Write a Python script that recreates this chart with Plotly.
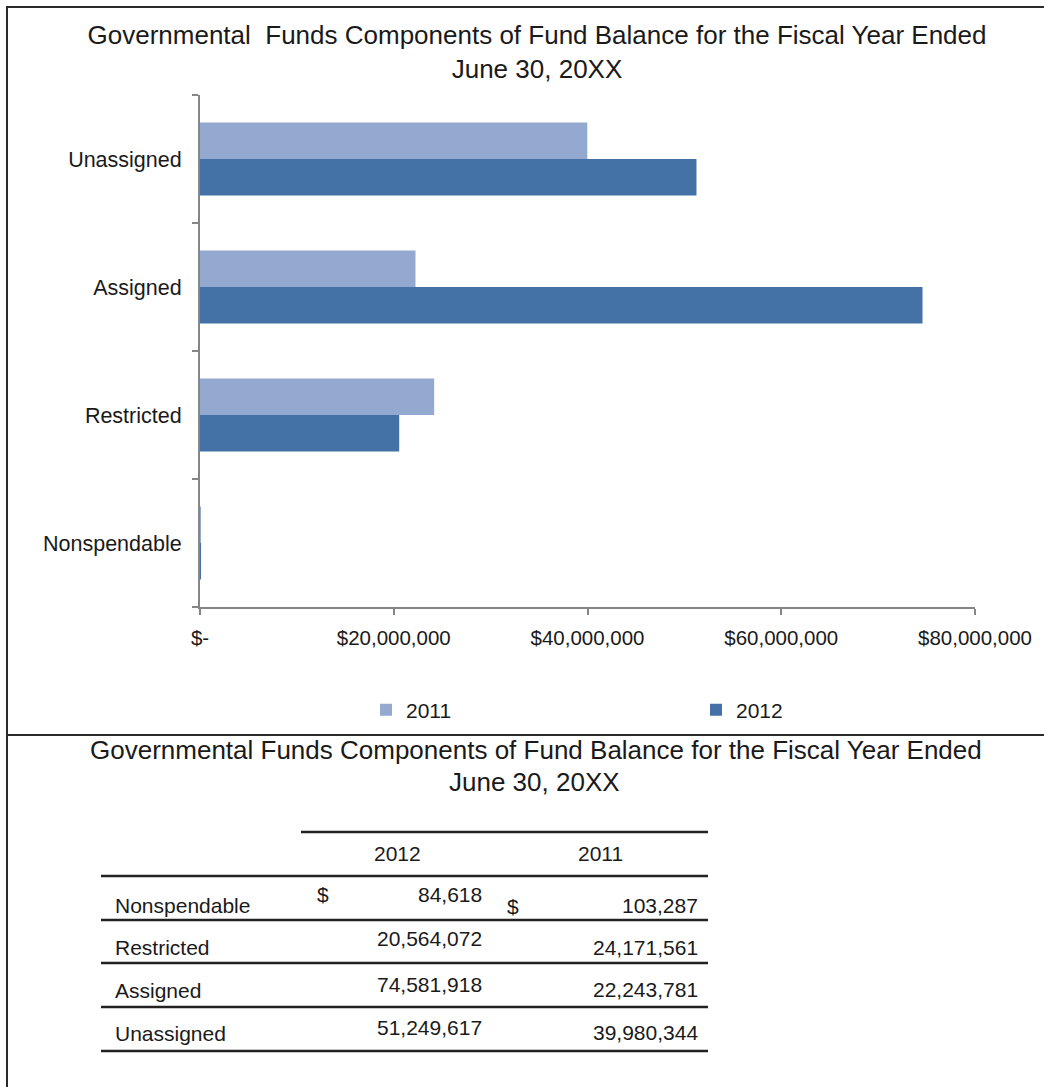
import plotly.graph_objects as go

W, H = 1044, 1087

# ---------------- data ----------------
categories = ["Nonspendable", "Restricted", "Assigned", "Unassigned"]
values_2012 = [84618, 20564072, 74581918, 51249617]
values_2011 = [103287, 24171561, 22243781, 39980344]
series_names = ["2011", "2012"]
x_tick_values = [0, 20000000, 40000000, 60000000, 80000000]
x_tick_labels = ["$-", "$20,000,000", "$40,000,000", "$60,000,000", "$80,000,000"]
title_line1 = "Governmental  Funds Components of Fund Balance for the Fiscal Year Ended"
title_line2 = "June 30, 20XX"
table_title_line1 = "Governmental Funds Components of Fund Balance for the Fiscal Year Ended"
table_header = ["2012", "2011"]
table_rows = ["Nonspendable", "Restricted", "Assigned", "Unassigned"]
# --------------------------------------

FONT = "Liberation Sans, Arial, sans-serif"
TXT = "#1a1a1a"
AX = "#868686"
LIGHT = "#94A9CF"
DARK = "#4472A6"


def px(x):
    return x / W


def py(y):
    return 1 - y / H


fig = go.Figure()
fig.add_trace(go.Bar(
    y=categories, x=values_2012, orientation="h", name=series_names[1],
    marker=dict(color=DARK, line=dict(width=0)), legendrank=2,
))
fig.add_trace(go.Bar(
    y=categories, x=values_2011, orientation="h", name=series_names[0],
    marker=dict(color=LIGHT, line=dict(width=0)), legendrank=1,
))

shapes = []
# outer frame of chart section
shapes.append(dict(type="rect", xref="paper", yref="paper",
                   x0=px(7), x1=px(1070), y0=py(7), y1=py(735),
                   line=dict(color="#2a2a2a", width=2)))
# left border of table section
shapes.append(dict(type="line", xref="paper", yref="paper",
                   x0=px(7), x1=px(7), y0=py(735), y1=py(1100),
                   line=dict(color="#2a2a2a", width=2)))
# table rules
shapes.append(dict(type="line", xref="paper", yref="paper",
                   x0=px(301), x1=px(708), y0=py(832), y1=py(832),
                   line=dict(color="#222", width=2.5)))
for yl in [876, 920, 963, 1007, 1051]:
    shapes.append(dict(type="line", xref="paper", yref="paper",
                       x0=px(101), x1=px(708), y0=py(yl), y1=py(yl),
                       line=dict(color="#222", width=2.5)))

annotations = []
# table title
annotations.append(dict(text=table_title_line1, x=px(536), y=py(750), xref="paper", yref="paper",
                        showarrow=False, xanchor="center", yanchor="middle",
                        font=dict(family=FONT, size=26, color=TXT)))
annotations.append(dict(text=title_line2, x=px(534), y=py(782), xref="paper", yref="paper",
                        showarrow=False, xanchor="center", yanchor="middle",
                        font=dict(family=FONT, size=26, color=TXT)))
# header
for hx, ht in zip([397, 600], table_header):
    annotations.append(dict(text=ht, x=px(hx), y=py(853), xref="paper", yref="paper",
                            showarrow=False, xanchor="center", yanchor="middle",
                            font=dict(family=FONT, size=21, color=TXT)))
row_label_y = [905, 948, 990, 1033]
v2012_y = [894, 938, 984, 1027]
v2011_y = [905, 948, 989, 1032]
for i, name in enumerate(table_rows):
    annotations.append(dict(text=name, x=px(113), y=py(row_label_y[i]), xref="paper", yref="paper",
                            showarrow=False, xanchor="left", yanchor="middle",
                            font=dict(family=FONT, size=21, color=TXT)))
    annotations.append(dict(text=f"{values_2012[i]:,}", x=px(484), y=py(v2012_y[i]), xref="paper", yref="paper",
                            showarrow=False, xanchor="right", yanchor="middle",
                            font=dict(family=FONT, size=21, color=TXT)))
    annotations.append(dict(text=f"{values_2011[i]:,}", x=px(700), y=py(v2011_y[i]), xref="paper", yref="paper",
                            showarrow=False, xanchor="right", yanchor="middle",
                            font=dict(family=FONT, size=21, color=TXT)))
# dollar signs on first row
annotations.append(dict(text="$", x=px(323), y=py(894), xref="paper", yref="paper",
                        showarrow=False, xanchor="center", yanchor="middle",
                        font=dict(family=FONT, size=21, color=TXT)))
annotations.append(dict(text="$", x=px(513), y=py(906), xref="paper", yref="paper",
                        showarrow=False, xanchor="center", yanchor="middle",
                        font=dict(family=FONT, size=21, color=TXT)))

fig.update_layout(
    width=W, height=H,
    margin=dict(l=0, r=0, t=0, b=0, autoexpand=False),
    paper_bgcolor="white", plot_bgcolor="white",
    barmode="group", bargap=0.43, bargroupgap=0,
    title=dict(text=title_line1 + "<br>" + title_line2, x=px(537), xanchor="center",
               y=py(44), yanchor="middle",
               font=dict(family=FONT, size=26, color=TXT)),
    xaxis=dict(domain=[px(200), px(975)], range=[0, 80000000], automargin=False,
               tickvals=x_tick_values, ticktext=x_tick_labels,
               showgrid=False, zeroline=False,
               showline=True, linecolor=AX, linewidth=2,
               ticks="outside", ticklen=6, tickwidth=2, tickcolor=AX,
               ticklabelstandoff=5,
               tickfont=dict(family=FONT, size=20.5, color=TXT)),
    yaxis=dict(domain=[py(607), py(95)], range=[-0.5, 3.5], automargin=False,
               categoryorder="array", categoryarray=categories,
               showgrid=False, zeroline=False,
               showline=True, linecolor=AX, linewidth=2,
               ticks="outside", ticklen=6, tickwidth=2, tickcolor=AX,
               tickson="boundaries", ticklabelstandoff=12,
               tickfont=dict(family=FONT, size=21.5, color=TXT)),
    legend=dict(orientation="h", x=px(366), xanchor="left", y=py(710), yanchor="middle",
                entrywidth=285, bgcolor="rgba(0,0,0,0)", borderwidth=0,
                font=dict(family=FONT, size=21, color=TXT), traceorder="normal"),
    shapes=shapes,
    annotations=annotations,
    showlegend=True,
)

fig.write_html("out.html")
